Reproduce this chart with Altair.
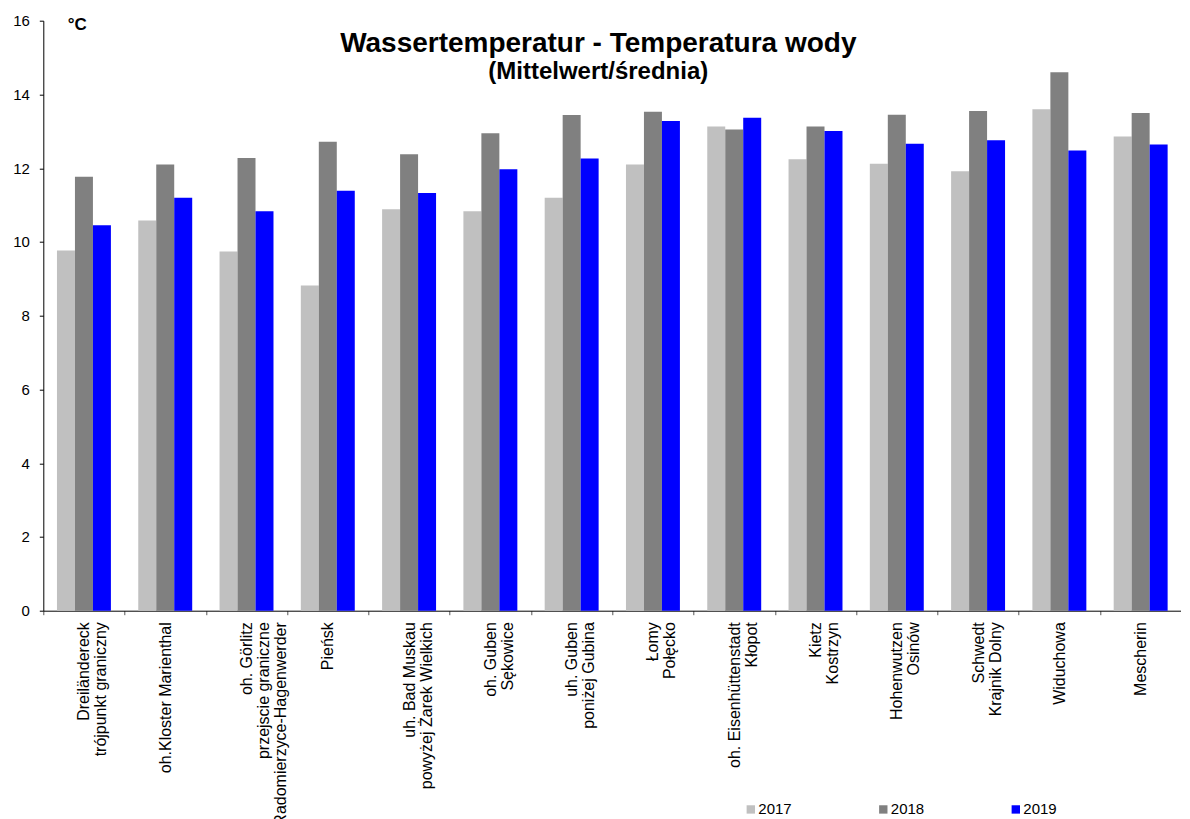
import altair as alt
import pandas as pd

stations = [
    "Dreiländereck\ntrójpunkt graniczny",
    "oh.Kloster Marienthal",
    "oh. Görlitz\nprzejscie graniczne\nRadomierzyce-Hagenwerder",
    "Pieńsk",
    "uh. Bad Muskau\npowyżej Żarek Wielkich",
    "oh. Guben\nSękowice",
    "uh. Guben\nponiżej Gubina",
    "Łomy\nPołęcko",
    "oh. Eisenhüttenstadt\nKłopot",
    "Kietz\nKostrzyn",
    "Hohenwutzen\nOsinów",
    "Schwedt\nKrajnik Dolny",
    "Widuchowa",
    "Mescherin",
]
years = ["2017", "2018", "2019"]
t2017 = [9.77, 10.58, 9.74, 8.82, 10.89, 10.83, 11.20, 12.10, 13.13, 12.24, 12.12, 11.92, 13.60, 12.86]
t2018 = [11.77, 12.10, 12.28, 12.72, 12.38, 12.95, 13.44, 13.53, 13.05, 13.13, 13.45, 13.55, 14.60, 13.50]
t2019 = [10.45, 11.20, 10.83, 11.39, 11.33, 11.97, 12.26, 13.28, 13.37, 13.01, 12.66, 12.76, 12.48, 12.64]
colors = ["#C0C0C0", "#808080", "#0000FF"]
y_ticks = [0, 2, 4, 6, 8, 10, 12, 14, 16]

rows = []
for yr, vals in zip(years, [t2017, t2018, t2019]):
    for st, v in zip(stations, vals):
        rows.append({"station": st, "year": yr, "temp": v})
df = pd.DataFrame(rows)

FONT = "Liberation Sans"

chart = alt.Chart(df).mark_bar().encode(
    x=alt.X(
        "station:N",
        sort=stations,
        scale=alt.Scale(paddingInner=0, paddingOuter=0),
        axis=alt.Axis(
            title=None,
            labelAngle=-90,
            labelExpr="split(datum.label, '\\n')",
            labelFontSize=16,
            labelLineHeight=17,
            labelColor="black",
            labelPadding=7,
            labelLimit=400,
            tickBand="extent",
            tickSize=4,
            tickColor="#555555",
            domainColor="black",
            orient="bottom",
        ),
    ),
    xOffset=alt.XOffset(
        "year:N",
        sort=years,
        scale=alt.Scale(paddingOuter=0.76, paddingInner=0),
    ),
    y=alt.Y(
        "temp:Q",
        scale=alt.Scale(domain=[0, 16], nice=False),
        axis=alt.Axis(
            values=y_ticks,
            format="d",
            grid=False,
            tickSize=4,
            tickColor="black",
            domainColor="black",
            labelFontSize=15,
            labelColor="black",
            labelPadding=10,
            title="°C",
            titleAngle=0,
            titleAlign="left",
            titleBaseline="alphabetic",
            titleX=24,
            titleY=9,
            titleFontSize=17,
            titleFontWeight="bold",
            titleColor="black",
        ),
    ),
    color=alt.Color(
        "year:N",
        scale=alt.Scale(domain=years, range=colors),
        legend=alt.Legend(
            title=None,
            orient="none",
            direction="horizontal",
            legendX=700,
            legendY=781,
            symbolType="square",
            symbolSize=70,
            symbolStrokeWidth=0,
            labelFontSize=15,
            labelColor="black",
            labelOffset=0,
            columnPadding=83.5,
            padding=0,
        ),
    ),
).properties(
    width=1138,
    height=590,
    autosize=alt.AutoSizeParams(type="none"),
    padding={"left": 35.3, "top": 12.7, "right": 0, "bottom": 208.3},
    title=alt.TitleParams(
        text="Wassertemperatur - Temperatura wody",
        subtitle="(Mittelwert/średnia)",
        fontSize=28,
        subtitleFontSize=24,
        fontWeight="bold",
        subtitleFontWeight="bold",
        color="black",
        subtitleColor="black",
        anchor="middle",
        frame="group",
        offset=-70,
        dx=-14,
        subtitlePadding=2,
    ),
).configure(
    font=FONT,
).configure_view(
    stroke=None,
)

chart.save("out.html", embed_options={"renderer": "svg", "actions": False})
